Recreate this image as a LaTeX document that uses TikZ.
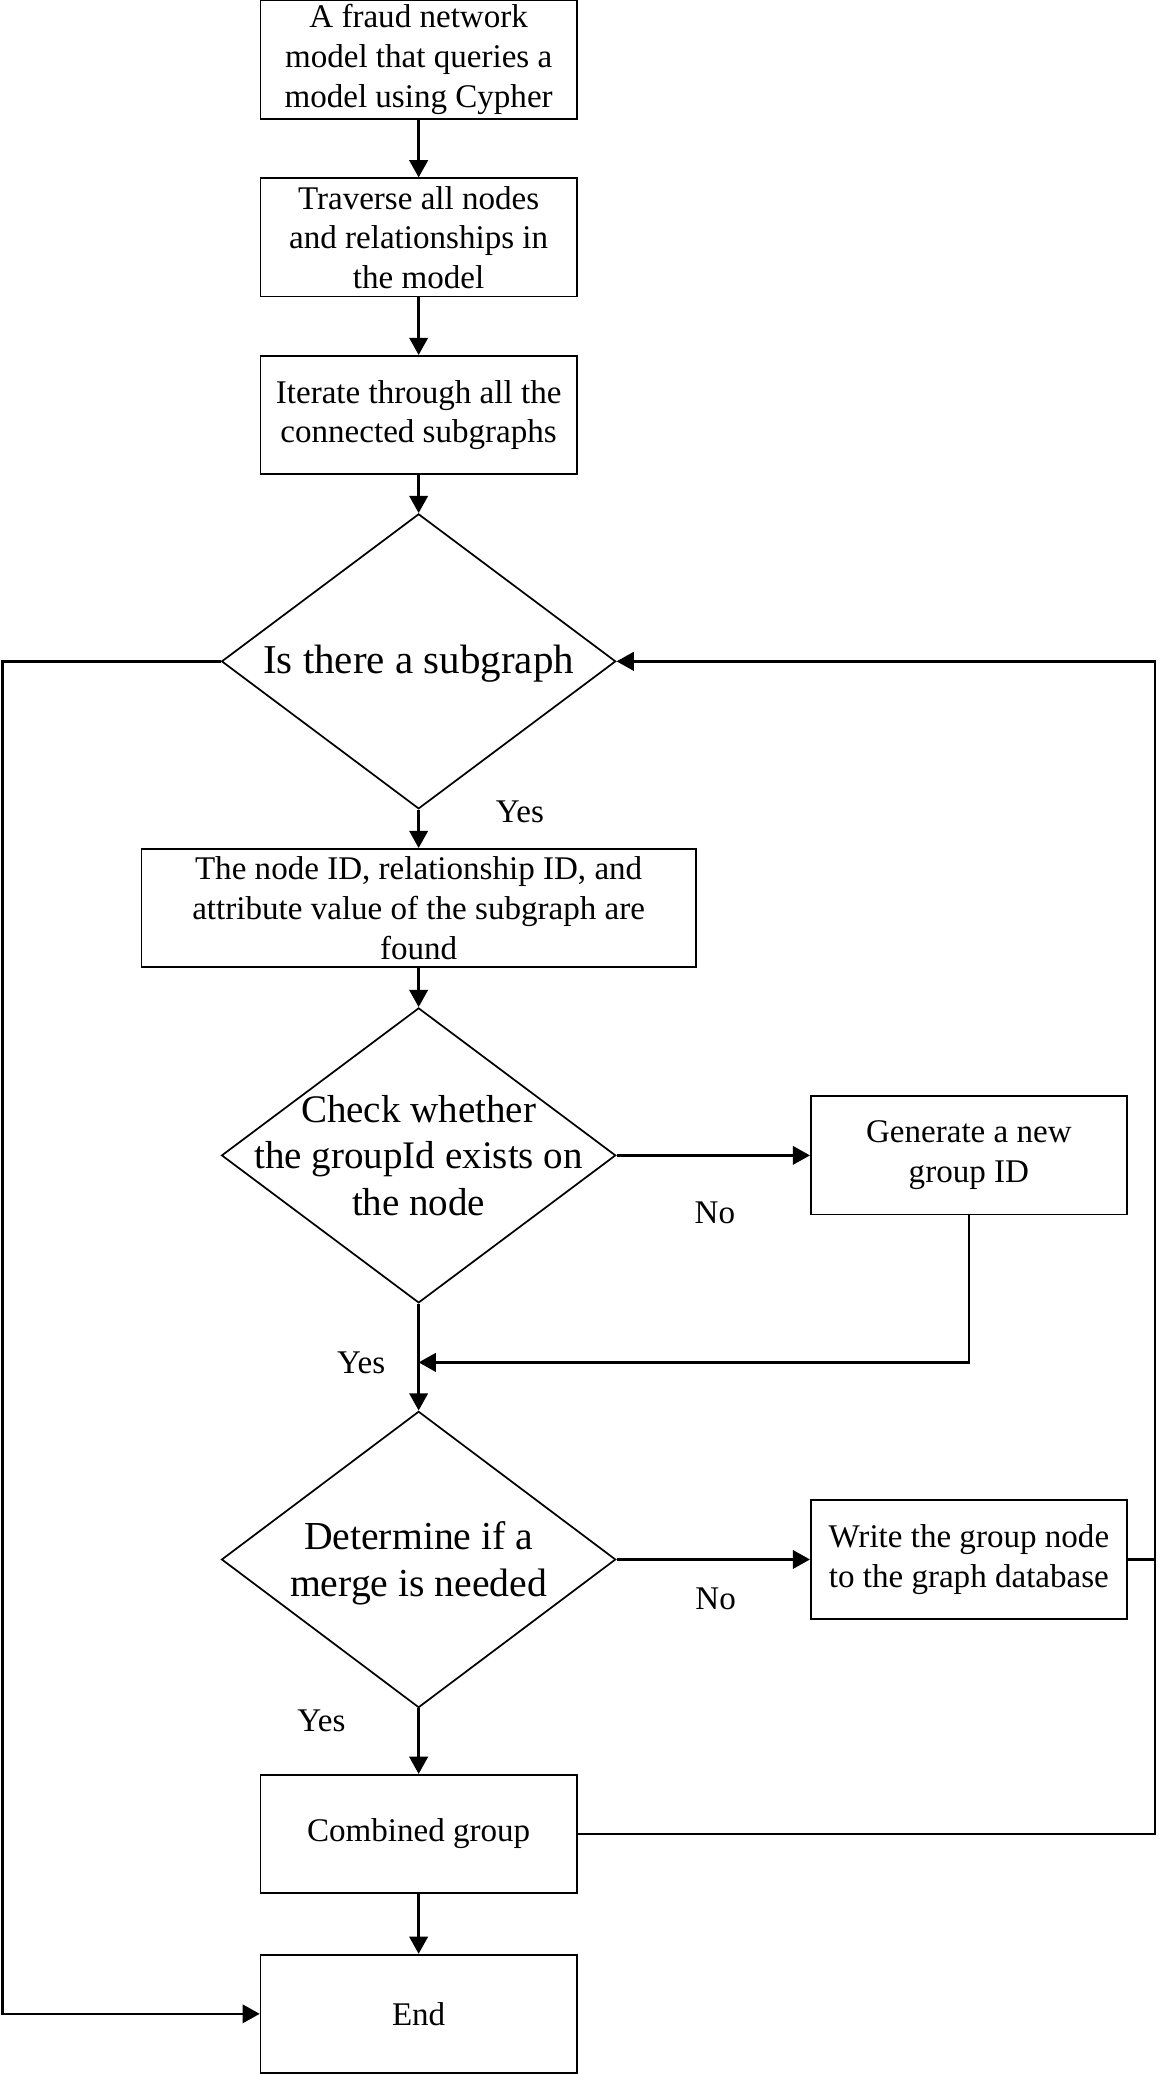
\documentclass[tikz,border=0pt]{standalone}
\usepackage{fontspec}
\setmainfont{Liberation Serif}
\usetikzlibrary{shapes.geometric,arrows.meta}
\begin{document}
\begin{tikzpicture}[x=1pt,y=-1pt,
  box/.style={draw,line width=1.3pt,minimum width=239pt,minimum height=89.5pt,inner sep=0pt,align=center,font=\fontsize{25}{30}\selectfont},
  dia/.style={draw,diamond,line width=1.3pt,minimum width=298pt,minimum height=223pt,inner sep=0pt},
  dtext/.style={align=center,inner sep=0pt},
  lbl/.style={inner sep=0pt,font=\fontsize{25}{30}\selectfont},
  conn/.style={line width=1.8pt},
  arr/.style={conn,-{Triangle[width=14pt,length=13pt]}}]
\useasboundingbox (0,0) rectangle (875,1568);
% boxes
\node[box] (b1) at (316.5,45) {A fraud network\\model that queries a\\model using Cypher};
\node[box] (b2) at (316.5,179.5) {Traverse all nodes\\and relationships in\\the model};
\node[box] (b3) at (316.5,313.75) {Iterate through all the\\connected subgraphs};
\node[dia] (d1) at (316.5,500) {};
\node[dtext,anchor=base,font=\fontsize{31}{36}\selectfont] (d1t) at (316.5,509.5) {Is there a subgraph};
\node[box,minimum width=419pt] (b4) at (316.5,686.5) {The node ID, relationship ID, and\\attribute value of the subgraph are\\found};
\node[dia] (d2) at (316.5,873.5) {};
\node[dtext,font=\fontsize{29.5}{35}\selectfont] (d2t) at (316.5,873.5) {Check whether\\the groupId exists on\\the node};
\node[box] (gen) at (732.5,873.5) {Generate a new\\group ID};
\node[dia,minimum height=224pt] (d3) at (316.5,1179) {};
\node[dtext,font=\fontsize{30}{36}\selectfont] (d3t) at (316.5,1182) {Determine if a\\merge is needed};
\node[box] (wr) at (732.5,1179) {Write the group node\\to the graph database};
\node[box] (cg) at (316.5,1386.5) {Combined group};
\node[box] (end) at (316.5,1522.5) {End};
% labels
\node[lbl] (y1) at (393,614) {Yes};
\node[lbl] (n1) at (540.5,917) {No};
\node[lbl] (y2) at (273,1030) {Yes};
\node[lbl] (n2) at (541,1208.5) {No};
\node[lbl] (y3) at (243,1301) {Yes};
% helper coordinates
\coordinate (lt) at (2,500);
\coordinate (lb) at (2,1522.5);
\coordinate (m1) at (316.5,1030);
\coordinate (gb) at (732.5,1030);
\coordinate (rw) at (873,1179);
\coordinate (rc) at (873,1386.5);
\coordinate (rt) at (873,500);
% connectors
\draw[arr] (b1) -- (b2);
\draw[arr] (b2) -- (b3);
\draw[arr] (b3) -- (d1);
\draw[arr] (d1.south) -- (b4);
\draw[arr] (b4) -- (d2.north);
\draw[arr] (d2.east) -- (gen.west);
\draw[arr] (d2.south) -- (d3.north);
\draw[arr] (gen.south) -- (gb) -- (m1);
\draw[arr] (d3.east) -- (wr.west);
\draw[arr] (d3.south) -- (cg.north);
\draw[arr] (cg) -- (end);
\draw[arr] (d1.west) -- (lt) -- (lb) -- (end.west);
\draw[conn] (wr.east) -- (rw);
\draw[arr] (cg.east) -- (rc) -- (rt) -- (d1.east);
\end{tikzpicture}
\end{document}
